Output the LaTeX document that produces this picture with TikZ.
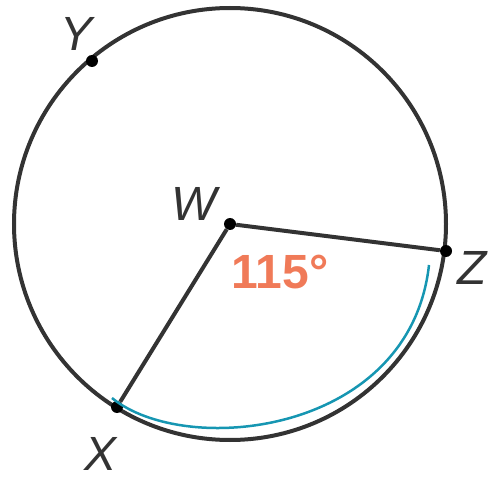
\documentclass[tikz,border=0pt]{standalone}
\usepackage{fontspec}
\setmainfont{Liberation Sans}
\usetikzlibrary{positioning}

\definecolor{arcorange}{RGB}{240,122,88}
\definecolor{arcteal}{RGB}{22,150,178}

\begin{document}
\begin{tikzpicture}[
    x=1pt, y=-1pt,
    every node/.style={font=\fontsize{48}{48}\selectfont\itshape, text=black!80},
    ptdot/.style={circle, fill=black, inner sep=0pt, minimum size=12pt},
    rim/.style={line width=4pt, draw=black!80},
]
\useasboundingbox (0,0) rectangle (498,481);
\draw[rim] (230,224) circle (216);
\node[ptdot] (W) at (230,224) {};
\node[ptdot] (Z) at (446,251) {};
\node[ptdot] (X) at (117,407) {};
\node[ptdot] (Y) at (92,61) {};
\draw[rim] (X) -- (W) -- (Z);
\node (Wl) at (194,204) {W};
\node (Zl) at (472,268) {Z};
\node (Xl) at (101,454) {X};
\node (Yl) at (77,34) {Y};
\node[font=\fontsize{48}{48}\selectfont\bfseries, text=arcorange] (ang) at (280,272) {115°};
\coordinate (arcA) at (112,398);
\coordinate (arcB) at (429,265);
\draw[arcteal, line width=2.5pt] (arcA) .. controls (185,458) and (410,435) .. (arcB);
\end{tikzpicture}
\end{document}
